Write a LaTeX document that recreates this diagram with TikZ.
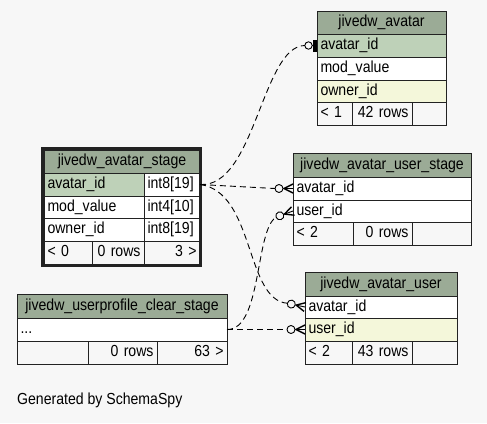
\documentclass[tikz,border=0pt]{standalone}
\usepackage{fontspec}
\setmainfont{Liberation Sans}[FakeStretch=0.88]
\usetikzlibrary{calc}
\definecolor{bg}{HTML}{F7F7F7}
\definecolor{hdr}{HTML}{9BAB96}
\definecolor{pk}{HTML}{BED1B8}
\definecolor{idx}{HTML}{F4F7DA}
\definecolor{ln}{HTML}{222222}
\tikzset{
  cell/.style={draw=ln, line width=0.9pt, anchor=north west, inner xsep=3.5pt,
    inner ysep=0pt, outer sep=0pt, text height=11.5pt, text depth=3.5pt},
  rel/.style={draw=black, dash pattern=on 6pt off 4pt, line width=0.9pt},
  crow/.pic={
    \draw[line width=0.9pt] (-10,0) -- (0,0);
    \draw[line width=1.4pt] (-9,0) -- (0,-4.5) (-9,0) -- (0,4.5);
    \draw[line width=0.9pt, fill=bg] (-14,0) circle (4);
    \coordinate (-back) at (-18,0);
  },
  zeroone/.pic={
    \draw[line width=0.9pt] (-5,0) -- (0,0);
    \fill[black] (-4.4,-6) rectangle (0,6);
    \draw[line width=0.9pt, fill=bg] (-8.5,0) circle (3.7);
    \coordinate (-back) at (-12.2,0);
  }
}
\newcommand\tcell[8]{%
  \pgfmathsetmacro\cw{#4-#2}\pgfmathsetmacro\ch{#5-#3}\pgfmathsetmacro\tw{#4-#2-7}%
  \node[cell, fill=#6, align=#7, text width=\tw pt, minimum width=\cw pt,
    minimum height=\ch pt] (#1) at (#2,#3) {#8};}
\begin{document}
\begin{tikzpicture}[x=1pt, y=-1pt, font=\fontsize{16}{19}\selectfont]
\fill[bg] (0,0) rectangle (487,423);
\useasboundingbox (0,0) rectangle (487,423);

% jivedw_avatar
\tcell{a0}{317}{11}{446}{34}{hdr}{center}{jivedw\_avatar}
\tcell{a1}{317}{34}{446}{57}{pk}{left}{avatar\_id}
\tcell{a2}{317}{57}{446}{80}{white}{left}{mod\_value}
\tcell{a3}{317}{80}{446}{102}{idx}{left}{owner\_id}
\tcell{a4}{317}{102}{352}{125}{bg}{left}{< 1}
\tcell{a5}{352}{102}{412}{125}{bg}{right}{42 rows}
\tcell{a6}{412}{102}{446}{125}{bg}{right}{}

% jivedw_avatar_stage
\tcell{s0}{44}{150}{200}{173}{hdr}{center}{jivedw\_avatar\_stage}
\tcell{s1}{44}{173}{144}{196}{pk}{left}{avatar\_id}
\tcell{s1t}{144}{173}{200}{196}{white}{left}{int8[19]}
\tcell{s2}{44}{196}{144}{218}{white}{left}{mod\_value}
\tcell{s2t}{144}{196}{200}{218}{white}{left}{int4[10]}
\tcell{s3}{44}{218}{144}{241}{white}{left}{owner\_id}
\tcell{s3t}{144}{218}{200}{241}{white}{left}{int8[19]}
\tcell{s4}{44}{241}{92}{264}{bg}{left}{< 0}
\tcell{s5}{92}{241}{144}{264}{bg}{right}{0 rows}
\tcell{s6}{144}{241}{200}{264}{bg}{right}{3 >}
\node[draw=ln, line width=3pt, anchor=north west, minimum width=158.4pt,
  minimum height=116.8pt, outer sep=0pt, inner sep=0pt] (sframe) at (42.3,148.6) {};

% jivedw_avatar_user_stage
\tcell{u0}{293}{153}{471}{177}{hdr}{center}{jivedw\_avatar\_user\_stage}
\tcell{u1}{293}{177}{471}{200}{white}{left}{avatar\_id}
\tcell{u2}{293}{200}{471}{222}{white}{left}{user\_id}
\tcell{u3}{293}{222}{353}{245}{bg}{left}{< 2}
\tcell{u4}{353}{222}{412}{245}{bg}{right}{0 rows}
\tcell{u5}{412}{222}{471}{245}{bg}{right}{}

% jivedw_avatar_user
\tcell{v0}{305}{272}{457}{296}{hdr}{center}{jivedw\_avatar\_user}
\tcell{v1}{305}{296}{457}{318}{white}{left}{avatar\_id}
\tcell{v2}{305}{318}{457}{341}{idx}{left}{user\_id}
\tcell{v3}{305}{341}{352}{364}{bg}{left}{< 2}
\tcell{v4}{352}{341}{412}{364}{bg}{right}{43 rows}
\tcell{v5}{412}{341}{457}{364}{bg}{right}{}

% jivedw_userprofile_clear_stage
\tcell{c0}{17}{294}{227}{318}{hdr}{center}{jivedw\_userprofile\_clear\_stage}
\tcell{c1}{17}{318}{227}{341}{white}{left}{...}
\tcell{c2}{17}{341}{88}{364}{bg}{left}{}
\tcell{c3}{88}{341}{157}{364}{bg}{right}{0 rows}
\tcell{c4}{157}{341}{227}{364}{bg}{right}{63 >}

\node[anchor=west, inner sep=0pt] (gen) at (17,400) {Generated by SchemaSpy};

% relationship ends
\path (a1.west) pic (e1) {zeroone};
\path (u1.west) pic (e2) {crow};
\path (v1.west) pic[rotate=-12] (e3) {crow};
\path (u2.west) pic[rotate=20] (e4) {crow};
\path (v2.west) pic (e5) {crow};

% relationships
\draw[rel] (s1t.east) .. controls (255,188) and (262,46) .. (e1-back);
\draw[rel] (s1t.east) -- (e2-back);
\draw[rel] (s1t.east) .. controls (255,192) and (245,300) .. (e3-back);
\draw[rel] (c1.east) .. controls (262,330) and (255,230) .. (e4-back);
\draw[rel] (c1.east) -- (e5-back);
\end{tikzpicture}
\end{document}
